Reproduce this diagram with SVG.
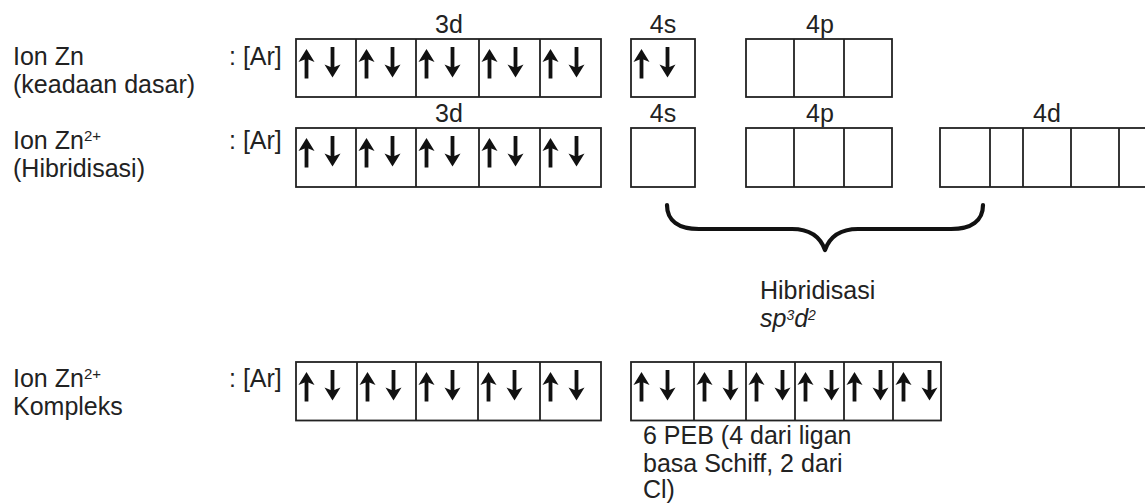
<svg xmlns="http://www.w3.org/2000/svg" width="1145" height="504" viewBox="0 0 1145 504">
<style>
text{font-family:"Liberation Sans",Arial,sans-serif;font-size:25px;fill:#222}
.ctr{text-anchor:middle}
.box{fill:none;stroke:#222;stroke-width:1.8}
.arr{fill:#111}
.brace{fill:none;stroke:#111;stroke-width:4.2;stroke-linecap:round;stroke-linejoin:round}
</style>
<defs>
<g id="pr">
<polygon class="arr" points="10.5,10 18.5,23 12.4,20.5 12.4,39.5 8.6,39.5 8.6,20.5 2.5,23"/>
<polygon class="arr" points="36.5,38.5 44.5,25.5 38.4,28 38.4,8 34.6,8 34.6,28 28.5,25.5"/>
</g>
</defs>
<rect width="1145" height="504" fill="#fff"/>

<g id="row1-label">
<text x="13" y="65">Ion Zn</text>
<text x="13" y="93">(keadaan dasar)</text>
<text x="229" y="65">: [Ar]</text>
</g>
<g id="row1-3d">
<text class="ctr" x="449" y="33">3d</text>
<rect class="box" x="296" y="39" width="305" height="58"/>
<path class="box" d="M356,39V97M416,39V97M479,39V97M540,39V97"/>
<use href="#pr" x="296" y="39"/><use href="#pr" x="356" y="39"/><use href="#pr" x="416" y="39"/><use href="#pr" x="479" y="39"/><use href="#pr" x="540" y="39"/>
</g>
<g id="row1-4s">
<text class="ctr" x="663" y="33">4s</text>
<rect class="box" x="631" y="39" width="64" height="58"/>
<use href="#pr" x="631" y="39"/>
</g>
<g id="row1-4p">
<text class="ctr" x="820" y="33">4p</text>
<rect class="box" x="746" y="39" width="146" height="58"/>
<path class="box" d="M794,39V97M844,39V97"/>
</g>

<g id="row2-label">
<text x="13" y="149">Ion Zn<tspan font-size="15" dy="-8">2+</tspan></text>
<text x="13" y="177">(Hibridisasi)</text>
<text x="229" y="149">: [Ar]</text>
</g>
<g id="row2-3d">
<text class="ctr" x="449" y="122">3d</text>
<rect class="box" x="296" y="128" width="305" height="59"/>
<path class="box" d="M356,128V187M416,128V187M479,128V187M540,128V187"/>
<use href="#pr" x="296" y="128"/><use href="#pr" x="356" y="128"/><use href="#pr" x="416" y="128"/><use href="#pr" x="479" y="128"/><use href="#pr" x="540" y="128"/>
</g>
<g id="row2-4s">
<text class="ctr" x="663" y="122">4s</text>
<rect class="box" x="631" y="128" width="64" height="59"/>
</g>
<g id="row2-4p">
<text class="ctr" x="820" y="122">4p</text>
<rect class="box" x="746" y="128" width="146" height="59"/>
<path class="box" d="M794,128V187M844,128V187"/>
</g>
<g id="row2-4d">
<text class="ctr" x="1047" y="122">4d</text>
<rect class="box" x="940" y="128" width="227" height="59"/>
<path class="box" d="M990,128V187M1023,128V187M1071,128V187M1119,128V187"/>
</g>

<g id="connectors">
<path class="brace" d="M667,205C667,221 679,229 699,229L792,229C809,229 820,236 825,250C830,236 841,229 858,229L951,229C971,229 983,221 983,205"/>
</g>
<g id="hybrid-label">
<text x="760" y="299">Hibridisasi</text>
<text x="760" y="327" font-style="italic">sp<tspan font-size="14" dy="-7">3</tspan><tspan dy="7">d</tspan><tspan font-size="14" dy="-7">2</tspan></text>
</g>

<g id="row3-label">
<text x="13" y="387">Ion Zn<tspan font-size="15" dy="-8">2+</tspan></text>
<text x="13" y="415">Kompleks</text>
<text x="229" y="387">: [Ar]</text>
</g>
<g id="row3-3d">
<rect class="box" x="296" y="362" width="305" height="58.5"/>
<path class="box" d="M357,362V420.5M416,362V420.5M478,362V420.5M540,362V420.5"/>
<use href="#pr" x="296" y="362"/><use href="#pr" x="357" y="362"/><use href="#pr" x="416" y="362"/><use href="#pr" x="478" y="362"/><use href="#pr" x="540" y="362"/>
</g>
<g id="row3-hybrid">
<rect class="box" x="631" y="362" width="310" height="58.5"/>
<path class="box" d="M694,362V420.5M746,362V420.5M795,362V420.5M844,362V420.5M893,362V420.5"/>
<use href="#pr" x="631" y="362"/><use href="#pr" x="694" y="362"/><use href="#pr" x="746" y="362"/><use href="#pr" x="795" y="362"/><use href="#pr" x="844" y="362"/><use href="#pr" x="893" y="362"/>
</g>
<g id="peb-label">
<text x="643" y="444">6 PEB (4 dari ligan</text>
<text x="643" y="472">basa Schiff, 2 dari</text>
<text x="643" y="498">Cl)</text>
</g>
</svg>
